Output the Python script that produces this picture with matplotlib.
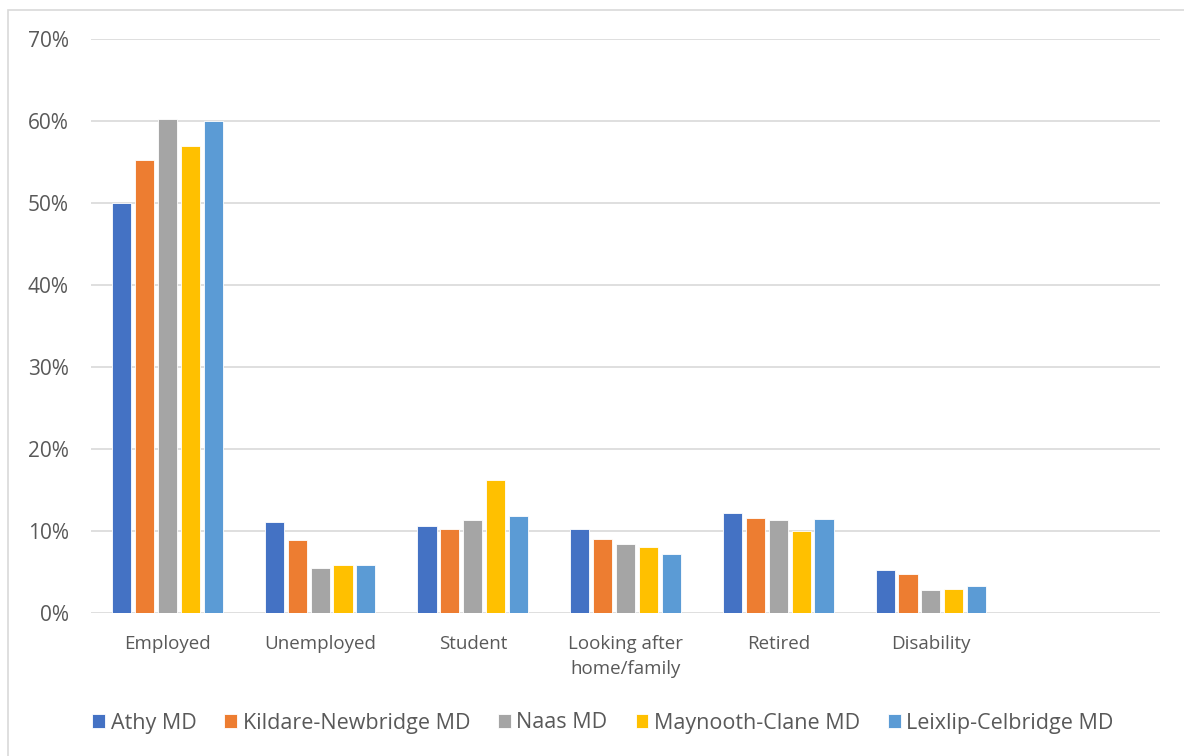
import matplotlib
matplotlib.use("Agg")
import matplotlib.pyplot as plt
import numpy as np
from matplotlib.patches import Rectangle
from matplotlib.ticker import FuncFormatter

plt.rcParams['font.family'] = ['Open Sans', 'DejaVu Sans']

categories = ["Employed", "Unemployed", "Student", "Looking after\nhome/family",
              "Retired", "Disability", ""]
series_names = ["Athy MD", "Kildare-Newbridge MD", "Naas MD",
                "Maynooth-Clane MD", "Leixlip-Celbridge MD"]
athy = [50.0, 11.1, 10.6, 10.3, 12.2, 5.3, None]
kildare = [55.3, 8.9, 10.2, 9.0, 11.6, 4.7, None]
naas = [60.2, 5.5, 11.4, 8.4, 11.3, 2.8, None]
maynooth = [56.9, 5.8, 16.2, 8.0, 10.0, 2.9, None]
leixlip = [60.0, 5.8, 11.8, 7.2, 11.5, 3.3, None]
series = [athy, kildare, naas, maynooth, leixlip]
colors = ["#4472C4", "#ED7D31", "#A5A5A5", "#FFC000", "#5B9BD5"]
yticks = [0, 10, 20, 30, 40, 50, 60, 70]

W, H = 1184, 756
fig = plt.figure(figsize=(W / 100, H / 100), dpi=100)
fig.patches.append(Rectangle((8 / W, -0.1), 1.2, 1 - 10 / H + 0.1,
                             transform=fig.transFigure, fill=False,
                             edgecolor="#D9D9D9", linewidth=1.2))

ax = fig.add_axes([91 / W, 1 - 613 / H, (1160 - 91) / W, (613 - 39) / H])
x = np.arange(len(categories))
pitch = 0.15
width = 0.125
handles = []
for i, (vals, c, name) in enumerate(zip(series, colors, series_names)):
    xs = [xi + (i - 2) * pitch for xi, v in zip(x, vals) if v is not None]
    vs = [v for v in vals if v is not None]
    b = ax.bar(xs, vs, width=width, color=c, edgecolor="white",
               linewidth=0.6, label=name, zorder=3)
    handles.append(b)

ax.set_xlim(-0.5, len(categories) - 0.5)
ax.set_ylim(0, 70)
ax.set_yticks(yticks)
ax.yaxis.set_major_formatter(FuncFormatter(lambda v, p: f"{int(v)}%"))
ax.set_xticks(x)
ax.set_xticklabels(categories, fontsize=13.5, color="#595959", linespacing=1.5)
ax.tick_params(axis="x", length=0, pad=16)
ax.tick_params(axis="y", length=0, pad=16, labelsize=15, labelcolor="#595959")
ax.grid(axis="y", color="#D9D9D9", linewidth=1.2, zorder=0)
for s in ax.spines.values():
    s.set_visible(False)

fig.legend(handles, series_names, loc="center", bbox_to_anchor=(603 / W, 1 - 723 / H),
           ncol=5, frameon=False, fontsize=15.5, labelcolor="#595959",
           handlelength=0.6, handleheight=0.6, handletextpad=0.25,
           columnspacing=1.3)

fig.savefig("out.png", dpi=100, facecolor="white")
